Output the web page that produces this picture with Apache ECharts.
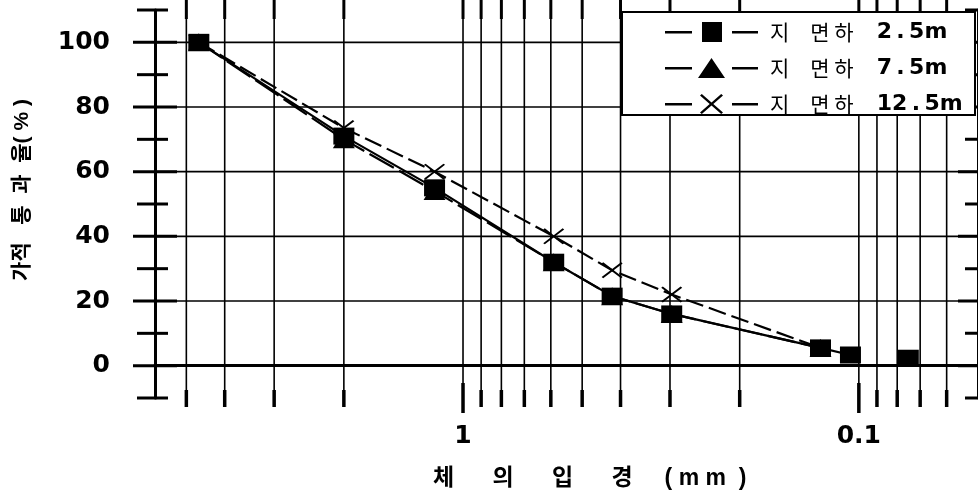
<!DOCTYPE html>
<html><head><meta charset="utf-8">
<script src="https://cdn.jsdelivr.net/npm/echarts@6/dist/echarts.min.js"></script>
<style>html,body{margin:0;padding:0;background:#fff}#c{width:978px;height:495px}</style>
</head><body><div id="c"></div>
<script>
// ---- data ----
const sieveSizes = [4.65, 2.0, 1.18, 0.59, 0.42, 0.297, 0.125, 0.105, 0.075];
const seriesNames = ['지 면하 2.5m', '지 면하 7.5m', '지 면하 12.5m'];
const pass25 = [100, 71, 55, 32, 21.5, 16, 5.5, 3.3, 2.3];
const pass75 = [100, 70, 54, 32, 21.5, 16, 5.5];
const pass125 = [100, 73.5, 60, 40, 29.5, 22, 5.5];
const gridSizes = [5, 4, 3, 2, 1, 0.9, 0.8, 0.7, 0.6, 0.5, 0.4, 0.3, 0.2, 0.1, 0.09, 0.08, 0.07, 0.06];
const majorSizes = [1, 0.1];
const xLabelValues = [1, 0.1];
const xMin = 0.05, xMax = 6;
const yMin = -10, yMax = 110, yStep = 10;
const yTicks = [-10, 0, 10, 20, 30, 40, 50, 60, 70, 80, 90, 100, 110];
const yLabelTicks = [0, 20, 40, 60, 80, 100];
const xTitle = '체      의      입      경     ( m m  )';
const yTitle = '가적   통  과  율( % )';

// ---- build ----
function pairs(vals) { return vals.map((v, i) => [sieveSizes[i], v]); }
const d25 = pairs(pass25); d25.splice(8, 0, ['-', '-']);
const d75 = pairs(pass75);
const d125 = pairs(pass125);

const xPath = 'path://M0,1.5 L1.5,0 L10,8.5 L18.5,0 L20,1.5 L11.5,10 L20,18.5 L18.5,20 L10,11.5 L1.5,20 L0,18.5 L8.5,10 Z';
const legendIcons = [
  'path://M0,9 H27 V11.5 H0 Z M37,0 H57 V20 H37 Z M67,9 H93 V11.5 H67 Z',
  'path://M0,9 H27 V11.5 H0 Z M33,20 L46.5,0 L60,20 Z M67,9 H93 V11.5 H67 Z',
  'path://M0,9 H27 V11.5 H0 Z M35,1.5 L36.8,0 L46.5,8.4 L56.2,0 L58,1.5 L48.3,10 L58,18.5 L56.2,20 L46.5,11.6 L36.8,20 L35,18.5 L44.7,10 Z M67,9 H93 V11.5 H67 Z'
];

const labelFont = { fontFamily: 'DejaVu Sans', fontWeight: 'bold', fontSize: 25, color: '#000' };
const BLK = '#000';

const chart = echarts.init(document.getElementById('c'), null, { renderer: 'canvas' });
chart.setOption({
  animation: false,
  backgroundColor: '#fff',
  grid: { left: 155, right: -5, top: 10, bottom: 97, containLabel: false },
  xAxis: [{
    type: 'log', logBase: 10, min: xMin, max: xMax, inverse: true, position: 'bottom',
    axisLine: { show: true, lineStyle: { color: BLK, width: 3 } },
    axisTick: { show: false }, splitLine: { show: false }, minorTick: { show: false },
    axisLabel: Object.assign({ margin: 26, showMinLabel: false, showMaxLabel: false,
      formatter: v => { const m = xLabelValues.find(t => Math.abs(t - v) < 1e-9); return m === undefined ? '' : String(m); } }, labelFont)
  }, {
    type: 'log', logBase: 10, min: xMin, max: xMax, inverse: true, position: 'top',
    axisLine: { show: true, lineStyle: { color: BLK, width: 3 } },
    axisTick: { show: false }, splitLine: { show: false }, axisLabel: { show: false }
  }],
  yAxis: [{
    type: 'value', min: yMin, max: yMax, interval: yStep, position: 'left',
    axisLine: { show: true, lineStyle: { color: BLK, width: 3 } },
    axisTick: { show: false }, splitLine: { show: false },
    axisLabel: Object.assign({ margin: 45,
      formatter: v => yLabelTicks.includes(v) ? String(v) : '' }, labelFont)
  }, {
    type: 'value', min: yMin, max: yMax, interval: yStep, position: 'right',
    axisLine: { show: true, lineStyle: { color: BLK, width: 3 } },
    axisTick: { show: false }, splitLine: { show: false }, axisLabel: { show: false }
  }],
  legend: {
    orient: 'vertical', left: 665, top: 21, itemWidth: 93, itemHeight: 20, itemGap: 14, padding: 0,
    selectedMode: false, z: 10,
    data: seriesNames.map((n, i) => ({ name: n, icon: legendIcons[i] })),
    itemStyle: { borderWidth: 0 },
    formatter: name => {
      const depth = name.split(' ').pop();
      return '{k|지\u3000면 하}{n|   ' + depth.replace('.', '\u2009.\u2009') + '}';
    },
    textStyle: {
      rich: {
        k: { fontFamily: 'Noto Sans CJK KR', fontSize: 21, color: BLK, padding: [0, 0, 0, 7] },
        n: { fontFamily: 'DejaVu Sans', fontWeight: 'bold', fontSize: 22, color: BLK }
      }
    }
  },
  graphic: [
    { type: 'rect', z: 9, shape: { x: 622, y: 12, width: 353, height: 103 },
      style: { fill: '#fff', stroke: BLK, lineWidth: 2 } },
    { type: 'text', x: 22, y: 190, rotation: Math.PI / 2,
      style: { text: yTitle, fontSize: 21, fontWeight: 'bold', fontFamily: '"Liberation Sans", "Noto Sans CJK KR"',
        fill: BLK, align: 'center', verticalAlign: 'middle' } },
    { type: 'text', x: 433, y: 479,
      style: { text: xTitle, fontSize: 23, fontWeight: 'bold', fontFamily: '"Liberation Sans", "Noto Sans CJK KR"',
        fill: BLK, align: 'left', verticalAlign: 'middle' } }
  ],
  series: [
    {
      type: 'custom', name: 'vgrid', silent: true, z: 1, clip: false,
      data: gridSizes.map(v => [v, yMin]), encode: { x: 0, y: 1 },
      renderItem: (params, api) => {
        const v = api.value(0);
        const top = api.coord([v, yMax]); const bot = api.coord([v, yMin]);
        const major = majorSizes.includes(v);
        return { type: 'group', children: [
          { type: 'line', shape: { x1: top[0], y1: top[1], x2: bot[0], y2: bot[1] }, style: { stroke: BLK, lineWidth: 1.6 } },
          { type: 'line', shape: { x1: bot[0], y1: bot[1] - (major ? 15 : 8), x2: bot[0], y2: bot[1] + (major ? 15 : 9) }, style: { stroke: BLK, lineWidth: 3.5 } },
          { type: 'line', shape: { x1: top[0], y1: top[1] - 10, x2: top[0], y2: top[1] + 9 }, style: { stroke: BLK, lineWidth: 3 } }
        ] };
      }
    },
    {
      type: 'custom', name: 'hgrid', silent: true, z: 1, clip: false,
      data: yTicks.map(t => [xMax, t]), encode: { x: 0, y: 1 },
      renderItem: (params, api) => {
        const t = api.value(1);
        const L = api.coord([xMax, t]); const R = api.coord([xMin, t]);
        const major = t % 20 === 0;
        const ch = [];
        if (yLabelTicks.includes(t)) ch.push({ type: 'line', shape: { x1: L[0], y1: L[1], x2: R[0], y2: R[1] }, style: { stroke: BLK, lineWidth: 1.6 } });
        ch.push({ type: 'line', shape: { x1: L[0] - (major ? 22 : 18), y1: L[1], x2: L[0] + (major ? 22 : 13), y2: L[1] }, style: { stroke: BLK, lineWidth: 3 } });
        ch.push({ type: 'line', shape: { x1: R[0] - (major ? 20 : 13), y1: R[1], x2: R[0] + 20, y2: R[1] }, style: { stroke: BLK, lineWidth: 3 } });
        return { type: 'group', children: ch };
      }
    },
    {
      type: 'line', name: seriesNames[0], data: d25, connectNulls: false,
      symbol: 'rect', symbolSize: [21, 17],
      lineStyle: { color: BLK, width: 2.2, type: 'solid' }, itemStyle: { color: BLK, borderWidth: 0 }, z: 3
    },
    {
      type: 'line', name: seriesNames[1], data: d75,
      symbol: 'triangle', symbolSize: [22, 18],
      lineStyle: { color: BLK, width: 2.2, type: [28, 6] }, itemStyle: { color: BLK, borderWidth: 0 }, z: 3
    },
    {
      type: 'line', name: seriesNames[2], data: d125,
      symbol: xPath, symbolSize: [21, 16],
      lineStyle: { color: BLK, width: 2.2, type: [18, 6] }, itemStyle: { color: BLK, borderWidth: 0 }, z: 3
    }
  ]
});
</script></body></html>
